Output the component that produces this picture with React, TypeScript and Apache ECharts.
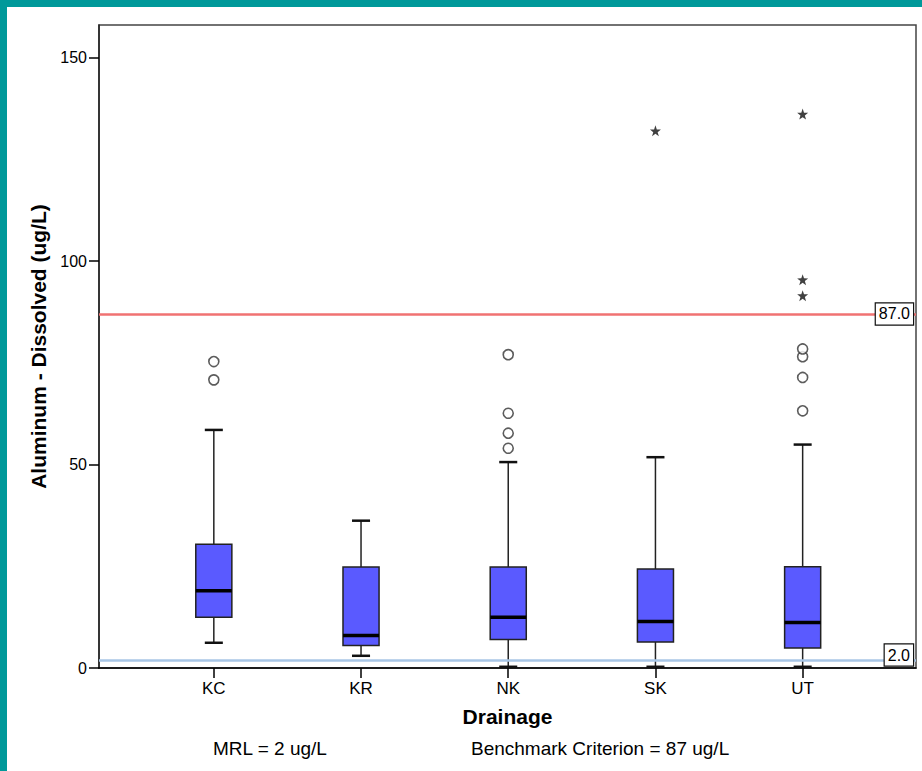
import React, { useEffect, useRef } from 'react';
import * as echarts from 'echarts';

const categories = ['KC', 'KR', 'NK', 'SK', 'UT'];
const lowerWhisker = [6.2, 3.0, 0.3, 0.3, 0.3];
const q1 = [12.5, 5.5, 7.0, 6.4, 4.9];
const median = [19.0, 8.0, 12.5, 11.4, 11.2];
const q3 = [30.4, 24.8, 24.8, 24.3, 24.9];
const upperWhisker = [58.5, 36.2, 50.6, 51.8, 54.9];

const outlierCategory = ['KC', 'KC', 'NK', 'NK', 'NK', 'NK', 'UT', 'UT', 'UT', 'UT'];
const outlierValue = [70.8, 75.3, 54.0, 57.7, 62.6, 77.0, 63.2, 71.4, 76.5, 78.4];
const extremeCategory = ['SK', 'UT', 'UT', 'UT'];
const extremeValue = [132.0, 91.5, 95.4, 136.1];

const yTicks = [0, 50, 100, 150];
const mrl = 2;
const benchmark = 87;
const footnotes = ['MRL = 2 ug/L', 'Benchmark Criterion = 87 ug/L'];

const X_MIN = -0.78;
const X_MAX = 4.77;
const Y_MAX = 158;
const BOX_W = 0.245;
const FONT = '"Liberation Sans", Arial, sans-serif';
const TEAL = '#00999a';

const STAR =
  'path://M0,-10L2.35,-3.24L9.51,-3.09L3.8,1.24L5.88,8.09L0,4L-5.88,8.09L-3.8,1.24L-9.51,-3.09L-2.35,-3.24Z';

export default function App() {
  const ref = useRef<HTMLDivElement>(null);

  useEffect(() => {
    if (!ref.current) return;
    const chart = echarts.init(ref.current, null, { renderer: 'svg' });

    const boxData = categories.map((_, i) => [
      i,
      lowerWhisker[i],
      q1[i],
      median[i],
      q3[i],
      upperWhisker[i],
    ]);
    const outlierData = outlierCategory.map((c, i) => [categories.indexOf(c), outlierValue[i]]);
    const extremeData = extremeCategory.map((c, i) => [categories.indexOf(c), extremeValue[i]]);
    const catIdx = categories.map((_, i) => i);

    const baseGraphic: any[] = [
      { type: 'rect', shape: { x: 0, y: 0, width: 7, height: 771 }, style: { fill: TEAL }, z: 100 },
      { type: 'rect', shape: { x: 0, y: 0, width: 922, height: 7 }, style: { fill: TEAL }, z: 100 },
      {
        type: 'text',
        x: 213,
        y: 748,
        style: { text: footnotes[0], font: `19px ${FONT}`, fill: '#000', verticalAlign: 'middle' },
      },
      {
        type: 'text',
        x: 471,
        y: 748,
        style: { text: footnotes[1], font: `19px ${FONT}`, fill: '#000', verticalAlign: 'middle' },
      },
    ];

    const option: any = {
      animation: false,
      backgroundColor: '#fff',
      textStyle: { fontFamily: FONT },
      grid: {
        left: 99,
        right: 6,
        top: 25,
        bottom: 103,
        show: true,
        borderColor: '#444',
        borderWidth: 1.5,
        backgroundColor: 'transparent',
      },
      xAxis: {
        type: 'value',
        min: X_MIN,
        max: X_MAX,
        name: 'Drainage',
        nameLocation: 'middle',
        nameGap: 38,
        nameTextStyle: { fontSize: 21, fontWeight: 'bold', color: '#000', fontFamily: FONT },
        splitLine: { show: false },
        axisLine: { show: true, onZero: false, lineStyle: { color: '#000', width: 1.5 } },
        axisTick: { show: true, length: 10, customValues: catIdx, lineStyle: { color: '#000', width: 1.5 } },
        axisLabel: {
          customValues: catIdx,
          formatter: (v: number) => categories[Math.round(v)] ?? '',
          fontSize: 17,
          color: '#000',
          margin: 12,
          fontFamily: FONT,
        },
      },
      yAxis: {
        type: 'value',
        min: 0,
        max: Y_MAX,
        name: 'Aluminum - Dissolved (ug/L)',
        nameLocation: 'middle',
        nameGap: 46,
        nameTextStyle: { fontSize: 21, fontWeight: 'bold', color: '#000', fontFamily: FONT },
        splitLine: { show: false },
        axisLine: { show: true, onZero: false, lineStyle: { color: '#222', width: 1.5 } },
        axisTick: { show: true, length: 10, customValues: yTicks, lineStyle: { color: '#000', width: 1.5 } },
        axisLabel: { customValues: yTicks, fontSize: 16, color: '#000', margin: 12, fontFamily: FONT },
      },
      series: [
        {
          type: 'line',
          data: [],
          z: 1,
          silent: true,
          markLine: {
            silent: true,
            symbol: 'none',
            label: { show: false },
            data: [
              { yAxis: benchmark, lineStyle: { color: '#f07272', width: 2.5, type: 'solid' } },
              { yAxis: mrl, lineStyle: { color: '#a8c6e6', width: 2.5, type: 'solid' } },
            ],
          },
        },
        {
          type: 'custom',
          z: 3,
          data: boxData,
          encode: { x: 0, y: [1, 2, 3, 4, 5] },
          renderItem: (params: any, api: any) => {
            const x = api.value(0);
            const pLw = api.coord([x, api.value(1)]);
            const pQ1 = api.coord([x, api.value(2)]);
            const pMed = api.coord([x, api.value(3)]);
            const pQ3 = api.coord([x, api.value(4)]);
            const pUw = api.coord([x, api.value(5)]);
            const half = api.size([BOX_W, 0])[0] / 2;
            const cx = pMed[0];
            const cap = half / 2;
            return {
              type: 'group',
              children: [
                { type: 'line', shape: { x1: cx, y1: pUw[1], x2: cx, y2: pQ3[1] }, style: { stroke: '#222', lineWidth: 1.5 } },
                { type: 'line', shape: { x1: cx, y1: pQ1[1], x2: cx, y2: pLw[1] }, style: { stroke: '#222', lineWidth: 1.5 } },
                { type: 'line', shape: { x1: cx - cap, y1: pUw[1], x2: cx + cap, y2: pUw[1] }, style: { stroke: '#111', lineWidth: 2.5 } },
                { type: 'line', shape: { x1: cx - cap, y1: pLw[1], x2: cx + cap, y2: pLw[1] }, style: { stroke: '#111', lineWidth: 2.5 } },
                {
                  type: 'rect',
                  shape: { x: cx - half, y: pQ3[1], width: half * 2, height: pQ1[1] - pQ3[1] },
                  style: { fill: '#5a5aff', stroke: '#222', lineWidth: 1.5 },
                },
                { type: 'line', shape: { x1: cx - half, y1: pMed[1], x2: cx + half, y2: pMed[1] }, style: { stroke: '#000', lineWidth: 3.5 } },
              ],
            };
          },
        },
        {
          type: 'scatter',
          z: 4,
          data: outlierData,
          symbol: 'circle',
          symbolSize: 10,
          itemStyle: { color: '#fff', borderColor: '#333', borderWidth: 1.6 },
        },
        {
          type: 'scatter',
          z: 4,
          data: extremeData,
          symbol: STAR,
          symbolSize: 11,
          itemStyle: { color: '#111' },
        },
      ],
      graphic: baseGraphic,
    };

    chart.setOption(option);

    const yB = chart.convertToPixel({ yAxisIndex: 0 }, benchmark) as number;
    const yM = chart.convertToPixel({ yAxisIndex: 0 }, mrl) as number;
    const y0 = chart.convertToPixel({ yAxisIndex: 0 }, 0) as number;
    const xR = chart.convertToPixel({ xAxisIndex: 0 }, X_MAX) as number;

    const labelBox = (text: string, y: number) => ({
      type: 'text',
      x: xR - 3,
      y,
      z: 50,
      style: {
        text,
        font: `16px ${FONT}`,
        fill: '#000',
        align: 'right',
        verticalAlign: 'middle',
        backgroundColor: '#fff',
        borderColor: '#111',
        borderWidth: 1.2,
        padding: [3, 3, 2, 3],
      },
    });

    chart.setOption({
      graphic: [
        ...baseGraphic,
        labelBox(benchmark.toFixed(1), yB),
        labelBox(mrl.toFixed(1), Math.min(yM, y0 - 13)),
      ],
    });

    return () => chart.dispose();
  }, []);

  return (
    <div
      ref={ref}
      style={{ position: 'absolute', left: 0, top: 0, width: 922, height: 771, background: '#fff' }}
    />
  );
}
